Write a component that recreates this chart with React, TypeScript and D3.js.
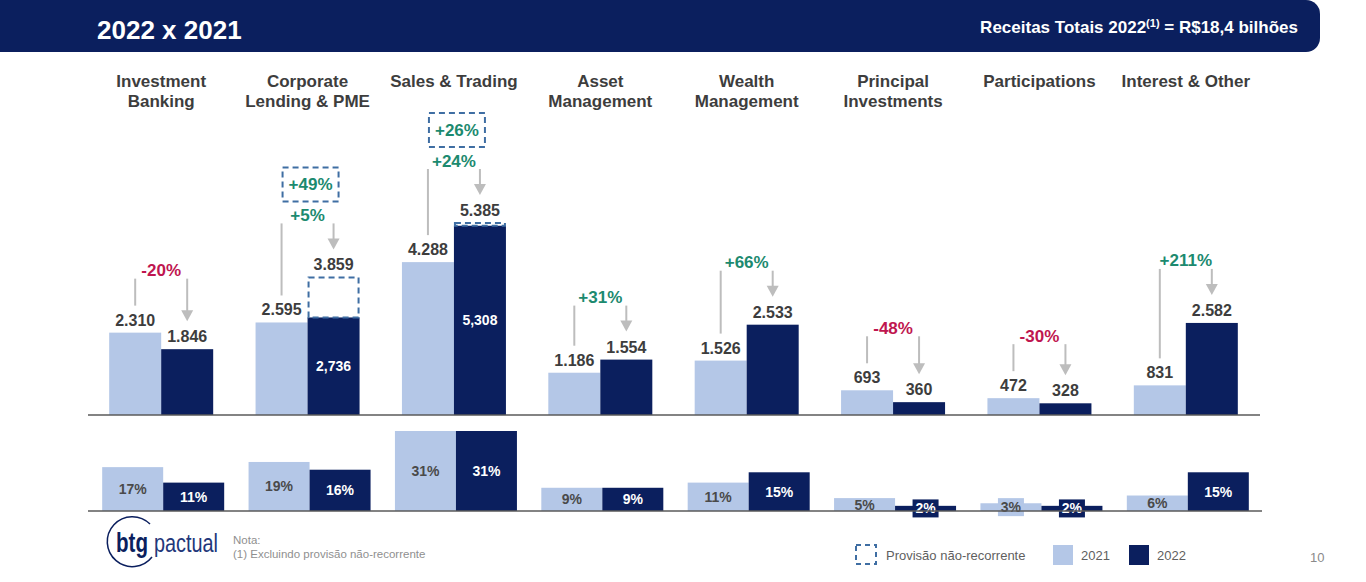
import React from "react";
import * as d3 from "d3";

const categories: string[][] = [
  ["Investment", "Banking"],
  ["Corporate", "Lending & PME"],
  ["Sales & Trading"],
  ["Asset", "Management"],
  ["Wealth", "Management"],
  ["Principal", "Investments"],
  ["Participations"],
  ["Interest & Other"],
];
const rev2021 = [2310, 2595, 4288, 1186, 1526, 693, 472, 831];
const rev2022 = [1846, 2736, 5308, 1554, 2533, 360, 328, 2582];
const rev2022Reported: (number | null)[] = [null, 3859, 5385, null, null, null, null, null];
const growth = [-20, 5, 24, 31, 66, -48, -30, 211];
const growthExProvision: (number | null)[] = [null, 49, 26, null, null, null, null, null];
const share2021 = [17, 19, 31, 9, 11, 5, 3, 6];
const share2022 = [11, 16, 31, 9, 15, 2, 2, 15];
const years = ["2021", "2022"];

const NAVY = "#0b1f5e";
const LIGHT = "#b4c7e7";
const GREEN = "#1c8a6f";
const RED = "#bf1650";
const GRAY_LINE = "#bdbdbd";
const DASH = "#3f6ea3";
const TXT = "#3d3d3d";
const FONT = "'Liberation Sans', Arial, Helvetica, sans-serif";

const ptBR = d3.formatLocale({ decimal: ",", thousands: ".", grouping: [3], currency: ["R$", ""] });
const fmtTop = ptBR.format(",");
const fmtIn = d3.format(",");
const fmtPct = (v: number) => (v > 0 ? "+" : "") + v + "%";

export default function App() {
  const idx = categories.map((_, i) => String(i));
  const x = d3.scaleBand<string>().domain(idx).range([88, 1259]).paddingInner(0);
  const cx = (i: number) => (x(String(i)) as number) + x.bandwidth() / 2;
  const xTop = d3.scaleBand<string>().domain(years).range([-52, 52]);
  const xBot = d3.scaleBand<string>().domain(years).range([-59, 63]);
  const yTop = d3.scaleLinear().domain([0, 5385]).range([415, 223]);
  const yBot = d3.scaleLinear().domain([0, 31]).range([511, 431]);

  return (
    <svg
      width={1366}
      height={582}
      style={{ position: "absolute", left: 0, top: 0, background: "#fff", fontFamily: FONT }}
    >
      {/* header */}
      <path d="M0,0 H1306 A14,14 0 0 1 1320,14 V38 A14,14 0 0 1 1306,52 H0 Z" fill={NAVY} />
      <text x={97} y={39} fill="#fff" fontSize={26} fontWeight="bold">2022 x 2021</text>
      <text x={1298} y={33} fill="#fff" fontSize={17} fontWeight="bold" textAnchor="end">
        Receitas Totais 2022<tspan fontSize={11} dy={-6}>(1)</tspan>
        <tspan dy={6}> = R$18,4 bilhões</tspan>
      </text>

      {/* category titles */}
      {categories.map((lines, i) => (
        <text key={"c" + i} x={cx(i)} y={87} fontSize={17} fontWeight="bold" fill={TXT} textAnchor="middle">
          {lines.map((l, j) => (
            <tspan key={j} x={cx(i)} dy={j === 0 ? 0 : 20}>{l}</tspan>
          ))}
        </text>
      ))}

      {/* top bars */}
      {categories.map((_, i) => {
        const c = cx(i);
        const x1 = c + (xTop("2021") as number);
        const x2 = c + (xTop("2022") as number);
        const bw = xTop.bandwidth();
        const t1 = yTop(rev2021[i]);
        const t2 = yTop(rev2022[i]);
        const rep = rev2022Reported[i];
        const t2d = rep != null ? yTop(rep) : t2;
        const pctY = Math.min(t1, t2d) - 62;
        const l1x = x1 + bw / 2;
        const l2x = x2 + bw / 2;
        const tip = t2d - 28;
        const exp = growthExProvision[i];
        return (
          <g key={"t" + i}>
            <rect x={x1} y={t1} width={bw} height={415 - t1} fill={LIGHT} />
            <rect x={x2} y={t2} width={bw} height={415 - t2} fill={NAVY} />
            {rep != null && (
              <rect x={x2 + 1} y={t2d} width={bw - 2} height={t2 - t2d} fill="none" stroke={DASH} strokeWidth={2} strokeDasharray="6,4" />
            )}
            {rep != null && (
              <text x={l2x} y={(t2 + 415) / 2} fill="#fff" fontSize={14} fontWeight="bold" textAnchor="middle" dominantBaseline="central">
                {fmtIn(rev2022[i])}
              </text>
            )}
            <text x={l1x} y={t1 - 7} fontSize={16} fontWeight="bold" fill={TXT} textAnchor="middle">{fmtTop(rev2021[i])}</text>
            <text x={l2x} y={t2d - 7} fontSize={16} fontWeight="bold" fill={TXT} textAnchor="middle">{fmtTop(rep != null ? rep : rev2022[i])}</text>
            <line x1={l1x} x2={l1x} y1={pctY + 8} y2={t1 - 27} stroke={GRAY_LINE} strokeWidth={2} />
            <line x1={l2x} x2={l2x} y1={pctY + 8} y2={tip - 9} stroke={GRAY_LINE} strokeWidth={2} />
            <path d={`M${l2x - 6},${tip - 11} L${l2x + 6},${tip - 11} L${l2x},${tip} Z`} fill={GRAY_LINE} />
            <text x={c} y={pctY} fontSize={17} fontWeight="bold" fill={growth[i] >= 0 ? GREEN : RED} textAnchor="middle" dominantBaseline="central">
              {fmtPct(growth[i])}
            </text>
            {exp != null && (
              <g>
                <rect x={c - 25} y={pctY - 48} width={56} height={34} fill="none" stroke={DASH} strokeWidth={2} strokeDasharray="6,4" />
                <text x={c + 3} y={pctY - 31} fontSize={17} fontWeight="bold" fill={GREEN} textAnchor="middle" dominantBaseline="central">
                  {fmtPct(exp)}
                </text>
              </g>
            )}
          </g>
        );
      })}
      <line x1={88} x2={1260} y1={415} y2={415} stroke="#5a5a5a" strokeWidth={1.5} />

      {/* bottom share bars */}
      {categories.map((_, i) => {
        const c = cx(i);
        const bw = xBot.bandwidth();
        return (
          <g key={"b" + i}>
            {years.map((yr, k) => {
              const v = k === 0 ? share2021[i] : share2022[i];
              const xx = c + (xBot(yr) as number);
              const top = yBot(v);
              const h = 511 - top;
              const col = k === 0 ? LIGHT : NAVY;
              const mid = (top + 511) / 2;
              return (
                <g key={yr}>
                  <rect x={xx} y={top} width={bw} height={h} fill={col} />
                  {h < 10 && <rect x={xx + bw / 2 - 13} y={mid - 9} width={26} height={18} fill={col} />}
                  <text x={xx + bw / 2} y={mid} fontSize={14} fontWeight="bold" fill={k === 0 ? "#4a4a4a" : "#fff"} textAnchor="middle" dominantBaseline="central">
                    {v + "%"}
                  </text>
                </g>
              );
            })}
          </g>
        );
      })}
      <line x1={88} x2={1262} y1={511} y2={511} stroke="#5a5a5a" strokeWidth={1.5} />

      {/* logo */}
      <path d="M150,524 A25,25 0 1 0 152,557" fill="none" stroke={NAVY} strokeWidth={1.5} />
      <text x={116} y={552} fontSize={27} fontWeight="bold" fill={NAVY} textLength={32} lengthAdjust="spacingAndGlyphs">btg</text>
      <text x={154} y={552} fontSize={25} fill="#23377a" textLength={64} lengthAdjust="spacingAndGlyphs">pactual</text>

      {/* note */}
      <text x={233} y={544} fontSize={11.5} fill="#8f8f8f">Nota:</text>
      <text x={233} y={558} fontSize={11.5} fill="#8f8f8f">(1) Excluindo provisão não-recorrente</text>

      {/* legend */}
      <rect x={856} y={545} width={20} height={19} fill="none" stroke={DASH} strokeWidth={2} strokeDasharray="5,4" />
      <text x={886} y={560} fontSize={13} fill="#5f5f5f">Provisão não-recorrente</text>
      <rect x={1053} y={545} width={20} height={20} fill={LIGHT} />
      <text x={1081} y={560} fontSize={13} fill="#5f5f5f">2021</text>
      <rect x={1129} y={545} width={20} height={20} fill={NAVY} />
      <text x={1157} y={560} fontSize={13} fill="#5f5f5f">2022</text>
      <text x={1310} y={562} fontSize={13} fill="#8a8a8a">10</text>
    </svg>
  );
}
